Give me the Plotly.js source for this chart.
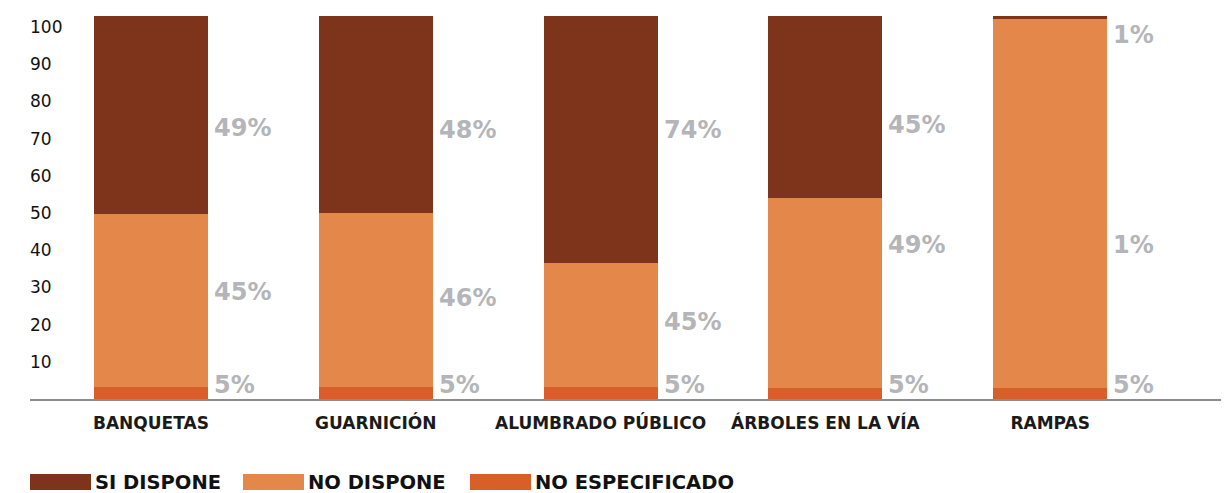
<!DOCTYPE html>
<html>
<head>
<meta charset="utf-8">
<script src="https://cdn.plot.ly/plotly-3.0.1.min.js"></script>
<style>
  html, body { margin: 0; padding: 0; background: #ffffff; }
  #chart { width: 1227px; height: 493px; }
</style>
</head>
<body>
<div id="chart"></div>
<script>
// ---------- DATA ----------
var categories = ['BANQUETAS', 'GUARNICIÓN', 'ALUMBRADO PÚBLICO', 'ÁRBOLES EN LA VÍA', 'RAMPAS'];
var seriesNames = ['SI DISPONE', 'NO DISPONE', 'NO ESPECIFICADO'];
// bar segment heights as drawn in the picture
var noEspecificado = [3.2, 3.2, 3.2, 3.0, 3.0];
var noDispone      = [46.5, 46.8, 33.4, 51.0, 99.2];
var siDispone      = [53.3, 53.0, 66.4, 49.0, 0.8];
// printed percentage labels
var labelsSi = ['49%', '48%', '74%', '45%', '1%'];
var labelsNo = ['45%', '46%', '45%', '49%', '1%'];
var labelsNe = ['5%', '5%', '5%', '5%', '5%'];
var yTicks = [10, 20, 30, 40, 50, 60, 70, 80, 90, 100];

// ---------- STYLE / LAYOUT ----------
var colors = { 'SI DISPONE': '#7E341B', 'NO DISPONE': '#E3874A', 'NO ESPECIFICADO': '#D95F28' };
var labelColor = '#B4B5B8';
var FONT = 'DejaVu Sans, sans-serif';

// label anchor heights (axis units) for the printed percentages
var labelPosSi = [72.8, 72.3, 72.3, 73.7, 97.8];
var labelPosNo = [28.8, 27.2, 20.7, 41.4, 41.4];
var labelPosNe = [3.9, 3.9, 3.9, 3.9, 3.9];

var traces = [
  { name: 'NO ESPECIFICADO', y: noEspecificado },
  { name: 'NO DISPONE', y: noDispone },
  { name: 'SI DISPONE', y: siDispone }
].map(function (s) {
  return {
    type: 'bar', x: categories, y: s.y, name: s.name,
    marker: { color: colors[s.name], line: { width: 0 } },
    showlegend: false, hoverinfo: 'x+y+name'
  };
});

var annotations = [];
function addLabels(texts, pos) {
  for (var i = 0; i < categories.length; i++) {
    annotations.push({
      x: categories[i], y: pos[i], xref: 'x', yref: 'y',
      text: '<b>' + texts[i] + '</b>', showarrow: false, xanchor: 'left', yanchor: 'middle',
      xshift: 61,
      font: { family: FONT, size: 24, color: labelColor }
    });
  }
}
addLabels(labelsSi, labelPosSi);
addLabels(labelsNo, labelPosNo);
addLabels(labelsNe, labelPosNe);

// custom legend (pixel -> paper helpers)
var L = 30, R = 1221, T = 10, B = 399;
function px(x) { return (x - L) / (R - L); }
function py(y) { return (B - y) / (B - T); }
var legendX = [30, 243, 470];
var shapes = [];
seriesNames.forEach(function (n, i) {
  shapes.push({
    type: 'rect', xref: 'paper', yref: 'paper',
    x0: px(legendX[i]), x1: px(legendX[i] + 61), y0: py(474), y1: py(490),
    fillcolor: colors[n], line: { width: 0 }
  });
  annotations.push({
    xref: 'paper', yref: 'paper', x: px(legendX[i] + 63), y: py(482),
    text: '<b>' + n + '</b>', showarrow: false, xanchor: 'left', yanchor: 'middle',
    font: { family: FONT, size: 19.5, color: '#111111' }
  });
});

var layout = {
  width: 1227, height: 493,
  margin: { l: L, r: 1227 - R, t: T, b: 493 - B },
  paper_bgcolor: '#ffffff', plot_bgcolor: '#ffffff',
  barmode: 'stack', bargap: 0.493,
  showlegend: false,
  font: { family: FONT, color: '#111111' },
  xaxis: {
    type: 'category', range: [-0.538, 4.76],
    showline: true, linecolor: '#8C8C8C', linewidth: 2,
    ticks: '', showgrid: false, zeroline: false,
    tickfont: { family: FONT, size: 17, color: '#1A1A1A', weight: 700 },
    ticklabelstandoff: 8
  },
  yaxis: {
    range: [0, 104.6], tickvals: yTicks, ticktext: yTicks.map(String),
    ticklabelposition: 'inside', ticks: '', showline: false, showgrid: false, zeroline: false,
    ticklabelstandoff: -3,
    tickfont: { family: FONT, size: 17, color: '#111111' }
  },
  shapes: shapes,
  annotations: annotations
};

Plotly.newPlot('chart', traces, layout, { staticPlot: true, displayModeBar: false });
</script>
</body>
</html>
